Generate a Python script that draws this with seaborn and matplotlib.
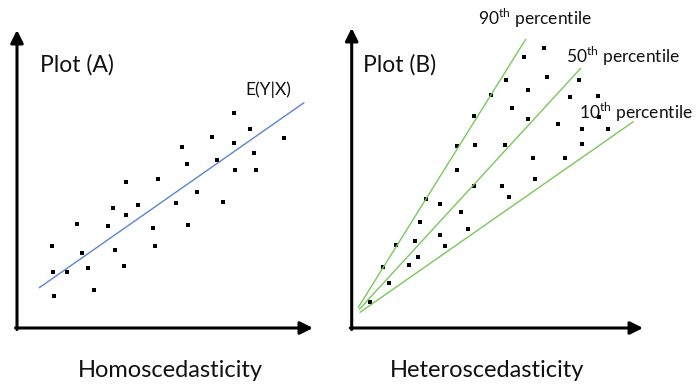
import numpy as np
import pandas as pd
import matplotlib
matplotlib.use('Agg')
import matplotlib.pyplot as plt
import seaborn as sns

# Plot (A): homoscedastic cloud around E(Y|X)
a_x = [34.7, 36.3, 37.3, 49.7, 59.7, 64.7, 70.7, 77.0, 91.3, 95.7, 98.0, 106.7,
       108.7, 108.7, 121.0, 135.7, 138.3, 140.7, 159.3, 165.3, 170.3, 170.7,
       180.3, 194.7, 199.7, 206.0, 217.3, 217.3, 218.3, 233.0, 236.7, 239.3, 267.3]
a_y = [82.0, 56.3, 31.7, 56.3, 104.3, 74.7, 60.0, 37.7, 101.7, 120.0, 78.3, 62.3,
       112.7, 146.0, 122.7, 100.3, 82.0, 149.3, 125.3, 181.3, 164.3, 102.7,
       136.0, 191.3, 168.0, 126.3, 215.0, 185.3, 158.3, 199.0, 175.3, 158.3, 190.3]
a_line_x = [22.3, 287.0]
a_line_y = [40.3, 225.3]

# Plot (B): heteroscedastic fan with quantile lines
b_x = [18.6, 37.3, 31.0, 44.6, 57.0, 66.6, 63.3, 68.0, 74.3, 88.6, 88.6, 93.6,
       109.6, 116.0, 105.0, 105.6, 122.0, 123.3, 122.0, 139.3, 153.0, 150.6,
       157.6, 154.0, 160.3, 172.0, 176.0, 176.0, 181.0, 183.6, 192.0, 195.6,
       206.6, 213.0, 218.0, 227.6, 230.0, 230.3, 246.0, 247.3, 256.0]
b_y = [26.3, 45.0, 61.3, 83.0, 63.3, 70.7, 87.0, 106.3, 128.7, 123.7, 93.0, 82.0,
       116.3, 99.0, 158.0, 181.7, 142.0, 182.7, 212.3, 233.3, 182.7, 142.3,
       131.0, 248.0, 219.7, 271.0, 238.3, 209.0, 170.3, 149.3, 280.0, 251.3,
       203.7, 170.3, 230.7, 248.0, 184.3, 199.0, 231.7, 211.3, 199.0]
q_names = ['90', '50', '10']
q_x0 = [6.6, 7.6, 8.3]
q_y0 = [20.7, 18.7, 15.7]
q_x1 = [174.0, 229.0, 281.6]
q_y1 = [288.7, 259.7, 206.3]
q_label_x = [126.3, 214.3, 227.3]
q_label_y = [303.0, 265.0, 209.0]

sns.set_theme(style='white')
plt.rcParams['font.family'] = ['Lato', 'DejaVu Sans']
plt.rcParams['mathtext.fontset'] = 'custom'
plt.rcParams['mathtext.rm'] = 'Lato'

W, H = 697, 389
fig = plt.figure(figsize=(6.97, 3.89), dpi=100)
axA = fig.add_axes([17 / W, 61 / H, 296 / W, 298 / H])
axB = fig.add_axes([351.7 / W, 61 / H, 291.3 / W, 300 / H])
axA.set_xlim(0, 296)
axA.set_ylim(0, 298)
axB.set_xlim(0, 291.3)
axB.set_ylim(0, 300)


def arrows(ax):
    ax.axis('off')
    style = dict(arrowstyle='-|>', lw=2.2, color='black', mutation_scale=19,
                 shrinkA=0, shrinkB=0)
    ax.annotate('', xy=(1, 0), xytext=(-0.005, 0), xycoords='axes fraction',
                arrowprops=style, annotation_clip=False)
    ax.annotate('', xy=(0, 1), xytext=(0, -0.005), xycoords='axes fraction',
                arrowprops=style, annotation_clip=False)


arrows(axA)
arrows(axB)

# panel A
sns.lineplot(x=a_line_x, y=a_line_y, ax=axA, color='#5B84D4', lw=1.0)
sns.scatterplot(x=a_x, y=a_y, ax=axA, marker='s', s=9, color='black', linewidth=0)
axA.text(23, 256, 'Plot (A)', fontsize=16.5, va='baseline', color='#111111')
axA.text(228, 233, 'E(Y|X)', fontsize=12.5, va='baseline', color='#111111')

# panel B
lines = pd.DataFrame({
    'x': q_x0 + q_x1,
    'y': q_y0 + q_y1,
    'q': q_names + q_names,
})
for q in q_names:
    d = lines[lines['q'] == q]
    sns.lineplot(data=d, x='x', y='y', ax=axB, color='#7CC65E', lw=1.0)
sns.scatterplot(x=b_x, y=b_y, ax=axB, marker='s', s=9, color='black', linewidth=0)
axB.text(11, 256, 'Plot (B)', fontsize=16.5, va='baseline', color='#111111')
for q, lx, ly in zip(q_names, q_label_x, q_label_y):
    axB.text(lx, ly, q + r'$^{\mathrm{th}}$ percentile', fontsize=12.5,
             va='baseline', clip_on=False, color='#111111')

fig.text(170 / W, 12 / H, 'Homoscedasticity', fontsize=17, ha='center',
         va='baseline', color='#111111')
fig.text(486.6 / W, 12 / H, 'Heteroscedasticity', fontsize=17, ha='center',
         va='baseline', color='#111111')

fig.savefig('out.png', dpi=100, facecolor='white')
